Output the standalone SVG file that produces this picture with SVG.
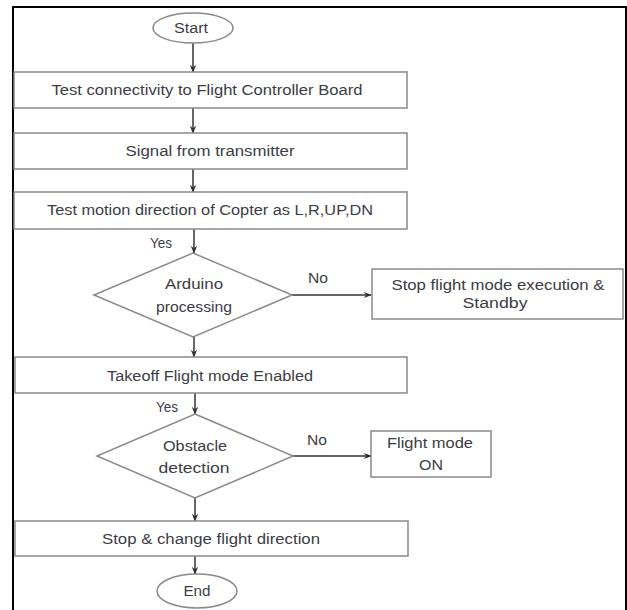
<svg xmlns="http://www.w3.org/2000/svg" width="627" height="610" viewBox="0 0 627 610">
<style>
.bg{fill:#fff}
.frame{fill:none;stroke:#000;stroke-width:2}
.box{fill:#fff;stroke:#8a8a8a;stroke-width:1.5}
.t{font-family:"Liberation Sans",Arial,sans-serif;font-size:14px;fill:#3c3c46;text-anchor:middle;dominant-baseline:central}
.c{fill:none;stroke:#333;stroke-width:1.5;marker-end:url(#ah)}
</style>
<defs>
<marker id="ah" viewBox="0 0 10 10" refX="9" refY="5" markerWidth="8" markerHeight="8" markerUnits="userSpaceOnUse" orient="auto">
<path d="M0,1 L10,5 L0,9 L3,5 Z" fill="#333"/>
</marker>
</defs>
<rect class="bg" x="0" y="0" width="627" height="610"/>
<path class="frame" d="M13,610 V7 H626 V610"/>

<g id="connectors">
<line class="c" x1="193" y1="43" x2="193" y2="72"/>
<line class="c" x1="193" y1="108" x2="193" y2="133"/>
<line class="c" x1="193" y1="169" x2="193" y2="192"/>
<line class="c" x1="194" y1="229" x2="194" y2="253"/>
<line class="c" x1="292" y1="295" x2="371" y2="295"/>
<line class="c" x1="194" y1="337" x2="194" y2="357"/>
<line class="c" x1="195" y1="393" x2="195" y2="414"/>
<line class="c" x1="293" y1="456" x2="371" y2="456"/>
<line class="c" x1="195" y1="498" x2="195" y2="521"/>
<line class="c" x1="195" y1="556" x2="195" y2="574"/>
<text class="t" x="161" y="243" textLength="22" lengthAdjust="spacingAndGlyphs">Yes</text>
<text class="t" x="318" y="278" textLength="20" lengthAdjust="spacingAndGlyphs">No</text>
<text class="t" x="167" y="407" textLength="22" lengthAdjust="spacingAndGlyphs">Yes</text>
<text class="t" x="317" y="440" textLength="20" lengthAdjust="spacingAndGlyphs">No</text>
</g>

<g id="start">
<ellipse class="box" cx="193" cy="28" rx="40" ry="15"/>
<text class="t" x="191" y="28" textLength="34" lengthAdjust="spacingAndGlyphs">Start</text>
</g>
<g id="test-connectivity">
<rect class="box" x="14" y="72" width="393" height="36"/>
<text class="t" x="207" y="90" textLength="311" lengthAdjust="spacingAndGlyphs">Test connectivity to Flight Controller Board</text>
</g>
<g id="signal">
<rect class="box" x="14" y="133" width="393" height="36"/>
<text class="t" x="210" y="151" textLength="169" lengthAdjust="spacingAndGlyphs">Signal from transmitter</text>
</g>
<g id="test-motion">
<rect class="box" x="14" y="192" width="393" height="37"/>
<text class="t" x="210" y="210" textLength="326" lengthAdjust="spacingAndGlyphs">Test motion direction of Copter as L,R,UP,DN</text>
</g>
<g id="arduino">
<polygon class="box" points="193,253 292,295 193,337 94,295"/>
<text class="t" x="194" y="284" textLength="58" lengthAdjust="spacingAndGlyphs">Arduino</text>
<text class="t" x="194" y="307" textLength="76" lengthAdjust="spacingAndGlyphs">processing</text>
</g>
<g id="stop-standby">
<rect class="box" x="372" y="269" width="251" height="50"/>
<text class="t" x="498" y="285" textLength="213" lengthAdjust="spacingAndGlyphs">Stop flight mode execution &amp;</text>
<text class="t" x="495" y="303" textLength="65" lengthAdjust="spacingAndGlyphs">Standby</text>
</g>
<g id="takeoff">
<rect class="box" x="15" y="357" width="392" height="36"/>
<text class="t" x="210" y="376" textLength="206" lengthAdjust="spacingAndGlyphs">Takeoff Flight mode Enabled</text>
</g>
<g id="obstacle">
<polygon class="box" points="195,414 293,456 195,498 97,456"/>
<text class="t" x="195" y="446" textLength="64" lengthAdjust="spacingAndGlyphs">Obstacle</text>
<text class="t" x="194" y="468" textLength="71" lengthAdjust="spacingAndGlyphs">detection</text>
</g>
<g id="flight-on">
<rect class="box" x="371" y="431" width="120" height="46"/>
<text class="t" x="430" y="443" textLength="86" lengthAdjust="spacingAndGlyphs">Flight mode</text>
<text class="t" x="431" y="465" textLength="24" lengthAdjust="spacingAndGlyphs">ON</text>
</g>
<g id="stop-change">
<rect class="box" x="15" y="521" width="393" height="35"/>
<text class="t" x="211" y="539" textLength="218" lengthAdjust="spacingAndGlyphs">Stop &amp; change flight direction</text>
</g>
<g id="end">
<ellipse class="box" cx="197" cy="591" rx="40" ry="17"/>
<text class="t" x="197" y="591" textLength="27" lengthAdjust="spacingAndGlyphs">End</text>
</g>
</svg>
